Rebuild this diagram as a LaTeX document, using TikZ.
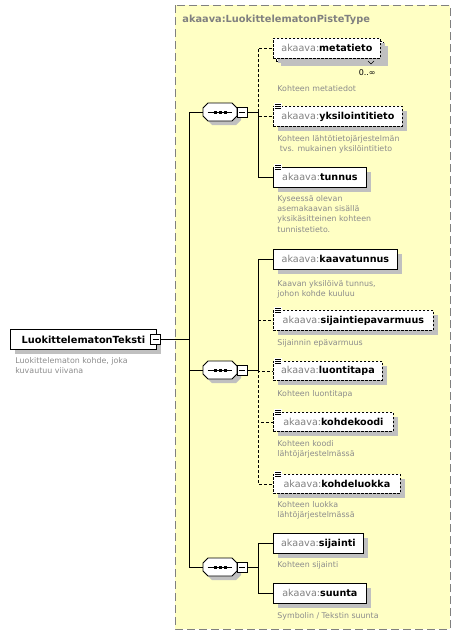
\documentclass[tikz,border=0pt]{standalone}
\usepackage{fontspec}
\setmainfont{DejaVu Sans}
\usetikzlibrary{shadows,calc}
\definecolor{bgyellow}{HTML}{FFFFC4}
\definecolor{akgray}{HTML}{808080}
\definecolor{descgray}{HTML}{8C8C8C}
\definecolor{shadowgray}{HTML}{C0C0C0}
\definecolor{framegray}{HTML}{808080}
\newcommand\pfx[1]{{\color{akgray}akaava:}\textbf{#1}}
\newcommand\docicon[1]{%
  \fill[white] ($(#1.north west)+(1,-3)$) rectangle ++(8,7);
  \foreach \d in {-2,0,2}{\draw[line width=0.6pt] ($(#1.north west)+(2,\d)$) -- ++(6,0);}}
\newcommand\octpath[3]{% node, xoff, yoff
  ($(#1.center)+(-17+#2,-4+#3)$) -- ($(#1.center)+(-12+#2,-9+#3)$) -- ($(#1.center)+(12+#2,-9+#3)$) --
  ($(#1.center)+(17+#2,-4+#3)$) -- ($(#1.center)+(17+#2,4+#3)$) -- ($(#1.center)+(12+#2,9+#3)$) --
  ($(#1.center)+(-12+#2,9+#3)$) -- ($(#1.center)+(-17+#2,4+#3)$) -- cycle}
\newcommand\seqdraw[1]{%
  \fill[shadowgray] \octpath{#1}{4}{4};
  \draw[fill=white] \octpath{#1}{0}{0};
  \draw[line width=0.8pt] ($(#1.west)+(5,0)$) -- ($(#1.east)+(-5,0)$);
  \foreach \d in {-5,0,5}{\fill ($(#1.center)+(\d-1.5,-1.5)$) rectangle ++(3,3);}}
\begin{document}
\begin{tikzpicture}[x=1pt,y=-1pt,line width=0.8pt,
  elem/.style={draw=black, fill=white, anchor=north west, minimum height=20, inner sep=0pt,
    font=\fontsize{9.6}{11}\selectfont,
    general shadow={fill=shadowgray, shadow xshift=5pt, shadow yshift=-5pt}},
  optelem/.style={elem, dash pattern=on 2.5pt off 1.5pt},
  optline/.style={dash pattern=on 3pt off 2pt},
  desc/.style={anchor=base west, inner sep=0pt, align=left, text=descgray,
    font=\fontsize{7.9}{10.4}\selectfont},
  seqbox/.style={minimum width=34, minimum height=18, inner sep=0pt},
  minusbox/.style={draw=black, fill=white, minimum size=10, inner sep=0pt,
    path picture={\draw ($(path picture bounding box.west)+(2,0)$) -- ($(path picture bounding box.east)+(-2,0)$);}}
]
\useasboundingbox (0,0) rectangle (461,637);
% frame
\draw[framegray, fill=bgyellow, line width=1pt, dash pattern=on 8pt off 4pt] (175,5) rectangle (450,629);
\node[anchor=base west, inner sep=0pt, text=akgray, font=\fontsize{9.8}{12}\selectfont\bfseries] (title) at (182,23) {akaava:LuokittelematonPisteType};

% main element
\node[elem, minimum width=146, font=\fontsize{9.8}{12}\selectfont\bfseries] (main) at (10,329) {LuokittelematonTeksti};
\node[minusbox] (mainm) at (155.5,339) {};
\node[desc] (maind) at (15,373.4) {Luokittelematon kohde, joka\\kuvautuu viivana};

% compositors
\node[seqbox] (c1) at (220,112) {};
\node[seqbox] (c2) at (220,370) {};
\node[seqbox] (c3) at (220,567) {};
\seqdraw{c1}\seqdraw{c2}\seqdraw{c3}
\node[minusbox] (c1m) at (242,112) {};
\node[minusbox] (c2m) at (242,370) {};
\node[minusbox] (c3m) at (242,567) {};

% elements group 1
\fill[shadowgray] (281,46) rectangle (388,66);
\node[optelem, minimum width=107, general shadow={}] (metaback) at (276,41) {};
\node[optelem, minimum width=107, general shadow={}] (meta) at (273,38) {\pfx{metatieto}};
\draw[line width=0.6pt] (368,61) -- (371,64) -- (374,61);
\node[anchor=base east, inner sep=0pt, font=\fontsize{8}{10}\selectfont] (mult) at (376,75) {0..∞};
\node[desc] (metad) at (277,91) {Kohteen metatiedot};

\node[optelem, minimum width=129] (yksi) at (273,106) {\pfx{yksilointitieto}};
\docicon{yksi}
\node[desc] (yksid) at (277,151.4) {Kohteen lähtötietojärjestelmän\\\hspace*{0.3em}tvs. mukainen yksilöintitieto};

\node[elem, minimum width=93] (tunnus) at (273,167) {\pfx{tunnus}};
\docicon{tunnus}
\node[desc] (tunnusd) at (277,232.2) {Kyseessä olevan\\asemakaavan sisällä\\yksikäsitteinen kohteen\\tunnistetieto.};

% elements group 2
\node[elem, minimum width=124] (kaava) at (273,249) {\pfx{kaavatunnus}};
\node[desc] (kaavad) at (277,296.4) {Kaavan yksilöivä tunnus,\\johon kohde kuuluu};

\node[optelem, minimum width=160] (sijep) at (273,310) {\pfx{sijaintiepavarmuus}};
\docicon{sijep}
\node[desc] (sijepd) at (277,345) {Sijainnin epävarmuus};

\node[optelem, minimum width=109, minimum height=19] (luont) at (273,361) {\pfx{luontitapa}};
\docicon{luont}
\node[desc] (luontd) at (277,396) {Kohteen luontitapa};

\node[optelem, minimum width=120, minimum height=19] (kkoodi) at (273,412) {\pfx{kohdekoodi}};
\docicon{kkoodi}
\node[desc] (kkoodid) at (277,456.4) {Kohteen koodi\\lähtöjärjestelmässä};

\node[optelem, minimum width=127, minimum height=19] (kluokka) at (273,474) {\pfx{kohdeluokka}};
\docicon{kluokka}
\node[desc] (kluokkad) at (277,517.4) {Kohteen luokka\\lähtöjärjestelmässä};

% elements group 3
\node[elem, minimum width=90] (sijainti) at (273,533) {\pfx{sijainti}};
\node[desc] (sijaintid) at (277,567) {Kohteen sijainti};

\node[elem, minimum width=93] (suunta) at (273,583) {\pfx{suunta}};
\node[desc] (suuntad) at (277,618) {Symbolin / Tekstin suunta};

% connectors
\coordinate (t1) at (189,112);
\coordinate (t2) at (189,370);
\coordinate (t3) at (189,567);
\coordinate (v1) at (258,112);
\coordinate (v2) at (258,370);
\coordinate (v3) at (258,567);
\draw (t1) -- (t3);
\draw (mainm.east) -- (mainm.east -| t1);
\draw (t1) -- (c1.west);
\draw (t2) -- (c2.west);
\draw (t3) -- (c3.west);

\draw[optline] (v1) |- (meta.west);
\draw[optline] (v1) |- (yksi.west);
\draw (c1m.east) -- (v1) |- (tunnus.west);

\draw[optline] (v2) |- (sijep.west);
\draw[optline] (v2) |- (luont.west);
\draw[optline] (v2) |- (kkoodi.west);
\draw[optline] (v2) |- (kluokka.west);
\draw (c2m.east) -- (v2) |- (kaava.west);

\draw (c3m.east) -- (v3) |- (sijainti.west);
\draw (v3) |- (suunta.west);
\end{tikzpicture}
\end{document}
